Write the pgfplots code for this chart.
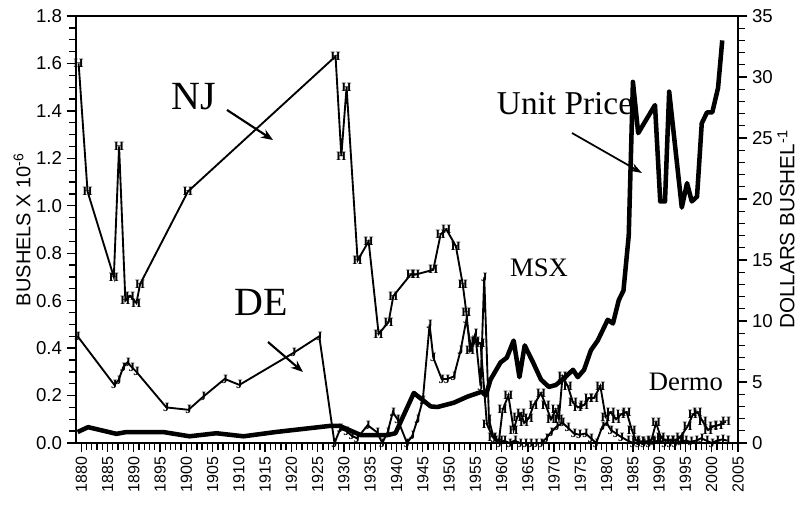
\documentclass[border=0pt]{standalone}
\usepackage{fontspec}
\setmainfont{Liberation Serif}
\setsansfont{Liberation Sans}
\usepackage{pgfplots}
\pgfplotsset{compat=1.18}
\usetikzlibrary{arrows.meta}

\pgfplotstableread{
year val
1879.5 1.60
1881.2 1.06
1886.2 0.70
1887.2 1.25
1888.4 0.60
1889.3 0.62
1890.5 0.59
1891.2 0.67
1900.3 1.06
1928.4 1.63
1929.5 1.21
1930.5 1.50
1932.6 0.77
1934.7 0.85
1936.6 0.46
1938.5 0.51
1939.4 0.62
1942.7 0.71
1943.6 0.71
1947.0 0.73
1948.4 0.88
1949.5 0.90
1951.3 0.83
1952.6 0.67
1953.3 0.55
1954.0 0.39
1955.0 0.43
1956.0 0.42
1957.2 0.08
1958.3 0.025
1959.5 0.01
1960.2 0.14
1961.3 0.20
1962.3 0.055
1963.0 0.11
1963.7 0.125
1964.3 0.085
1965.2 0.105
1966.1 0.16
1967.5 0.21
1968.4 0.16
1969.4 0.10
1970.3 0.14
1970.9 0.10
1971.6 0.28
1972.6 0.24
1973.6 0.17
1974.5 0.15
1975.7 0.16
1976.6 0.19
1977.6 0.19
1978.8 0.24
1979.8 0.11
1980.8 0.13
1981.8 0.10
1982.7 0.12
1983.8 0.13
1984.8 0.055
1985.6 0.01
1986.5 0.005
1987.5 0.005
1988.5 0.01
1989.4 0.085
1990.3 0.025
1991.2 0.01
1992.2 0.01
1993.1 0.01
1994.0 0.025
1995.4 0.07
1996.4 0.12
1997.3 0.13
1998.3 0.09
1999.3 0.055
2000.3 0.07
2001.3 0.075
2002.7 0.09
}\njdata

\pgfplotstableread{
year val
1879.3 0.45
1886.3 0.245
1887.1 0.265
1888.0 0.32
1888.8 0.34
1889.6 0.32
1890.5 0.30
1896.2 0.15
1900.4 0.14
1903.2 0.195
1907.3 0.27
1910.1 0.245
1920.4 0.38
1925.3 0.45
1928.2 0.0
1929.3 0.06
1930.5 0.05
1931.5 0.03
1932.5 0.02
1934.5 0.075
1936.3 0.045
1937.3 0.0
1938.3 0.045
1939.3 0.13
1940.2 0.10
1942.0 0.0
1943.0 0.03
1944.0 0.10
1945.0 0.18
1946.3 0.50
1947.0 0.36
1948.6 0.27
1949.6 0.27
1950.9 0.28
1952.2 0.39
1953.3 0.52
1954.2 0.40
1955.0 0.46
1956.0 0.24
1956.7 0.70
1957.6 0.10
1958.5 0.02
1959.5 0.0
1960.5 0.01
1961.5 0.0
1962.5 0.01
1963.5 0.0
1964.5 0.0
1965.5 0.0
1966.5 0.0
1967.5 0.0
1968.5 0.02
1969.4 0.045
1970.5 0.07
1971.6 0.085
1972.6 0.065
1973.8 0.04
1974.8 0.035
1976.0 0.04
1977.0 0.02
1978.0 0.0
1979.2 0.07
1980.0 0.085
1980.8 0.055
1981.8 0.04
1982.8 0.025
1984.0 0.01
1985.0 0.0
1986.0 0.0
1987.0 0.0
1988.0 0.0
1989.0 0.005
1990.0 0.01
1991.0 0.0
1992.0 0.0
1993.0 0.0
1994.0 0.005
1995.0 0.01
1996.0 0.005
1997.0 0.01
1998.0 0.02
1999.0 0.01
2000.0 0.0
2001.0 0.01
2002.0 0.015
2003.0 0.01
}\dedata

\pgfplotstableread{
year price
1879.3 0.9
1881.3 1.3
1886.7 0.75
1888.6 0.9
1895.6 0.9
1900.6 0.55
1905.7 0.8
1910.9 0.55
1917.0 0.9
1927.3 1.4
1929.2 1.4
1933.2 0.65
1938.3 0.65
1939.8 0.8
1943.3 4.1
1946.5 3.0
1947.8 2.95
1950.9 3.3
1953.5 3.8
1956.2 4.2
1957.0 3.9
1957.9 5.2
1959.8 6.6
1961.0 7.0
1962.3 8.4
1963.4 5.4
1964.4 8.0
1966.0 6.6
1967.5 5.2
1969.0 4.6
1970.3 4.75
1971.6 5.2
1972.6 5.6
1973.6 6.0
1974.5 5.4
1975.7 6.0
1977.0 7.6
1978.3 8.4
1980.2 10.1
1981.2 9.8
1982.3 11.7
1983.2 12.5
1984.2 17.0
1985.0 29.6
1986.0 25.4
1989.2 27.7
1990.2 19.8
1991.1 19.8
1991.9 28.8
1994.3 19.3
1995.3 21.3
1996.2 19.8
1997.2 20.2
1998.1 26.2
1999.1 27.1
2000.1 27.1
2001.2 29.1
2002.0 33.0
}\pricedata

\begin{document}
\begin{tikzpicture}
\pgfplotsset{
  commonaxis/.style={
    width=496.5pt, height=320.25pt, scale only axis,
    xmin=1879, xmax=2005,
    tick align=outside,
    major tick length=7pt, minor tick length=5pt,
    axis line style={line width=1.5pt},
    every tick/.style={black, line width=1pt},
    /pgf/number format/assume math mode=true,
  }
}
\begin{axis}[
  commonaxis,
  ymin=0, ymax=1.8,
  xtick={1880,1885,1890,1895,1900,1905,1910,1915,1920,1925,1930,1935,1940,1945,1950,1955,1960,1965,1970,1975,1980,1985,1990,1995,2000,2005},
  minor x tick num=4,
  ytick={0,0.2,0.4,0.6,0.8,1.0,1.2,1.4,1.6,1.8},
  minor y tick num=3,
  xtick pos=lower, ytick pos=left,
  xticklabel style={rotate=90, anchor=east, font=\sffamily\fontsize{12}{12}\selectfont, /pgf/number format/1000 sep={}},
  yticklabel style={font=\sffamily\fontsize{14}{14}\selectfont, /pgf/number format/fixed, /pgf/number format/fixed zerofill, /pgf/number format/precision=1},
  ylabel={BUSHELS X 10\textsuperscript{-6}},
  every axis y label/.style={at={(axis description cs:-0.0816,0.5)}, rotate=90, anchor=center, inner sep=0pt, font=\sffamily\fontsize{15}{15}\selectfont},
]
\addplot[black, line width=1.4pt, mark=text, text mark={\rmfamily\bfseries\fontsize{9.5}{9.5}\selectfont H}, mark options={line width=0.4pt}] table[x=year, y=val] {\njdata};
\addplot[black, line width=1.4pt, mark=text, text mark={\rmfamily\bfseries\fontsize{9.5}{9.5}\selectfont J}, mark options={line width=0.4pt}] table[x=year, y=val] {\dedata};

\node[font=\rmfamily\fontsize{30}{30}\selectfont] at (axis cs:1901.46,1.4586) {NJ};
\draw[line width=1.6pt, -{Stealth[length=9pt,width=7pt]}] (axis cs:1907.74,1.404) -- (axis cs:1916.5,1.277);
\node[font=\rmfamily\fontsize{30}{30}\selectfont] at (axis cs:1914.2,0.594) {DE};
\draw[line width=1.6pt, -{Stealth[length=9pt,width=7pt]}] (axis cs:1915.54,0.4258) -- (axis cs:1922.2,0.2993);
\node[font=\rmfamily\fontsize{25}{25}\selectfont] at (axis cs:1972.07,1.429) {Unit Price};
\draw[line width=1.3pt, -{Stealth[length=9pt,width=6pt]}] (axis cs:1973.4,1.3068) -- (axis cs:1986.73,1.138);
\node[font=\rmfamily\fontsize{20}{20}\selectfont] at (axis cs:1967.12,0.7377) {MSX};
\node[font=\rmfamily\fontsize{20}{20}\selectfont] at (axis cs:1995.1,0.257) {Dermo};
\end{axis}

\begin{axis}[
  commonaxis,
  ymin=0, ymax=35,
  axis x line=none, axis y line*=right,
  ytick={0,5,10,15,20,25,30,35},
  minor y tick num=4,
  yticklabel style={font=\sffamily\fontsize{14}{14}\selectfont},
  ylabel={DOLLARS BUSHEL\textsuperscript{-1}},
  every axis y label/.style={at={(axis description cs:1.0725,0.5)}, rotate=90, anchor=center, inner sep=0pt, font=\sffamily\fontsize{15.5}{15.5}\selectfont},
]
\addplot[black, line width=3.4pt, line join=round] table[x=year, y=price] {\pricedata};
\end{axis}
\pgfresetboundingbox
\useasboundingbox (-57pt,-48.75pt) rectangle (541.5pt,332.25pt);
\end{tikzpicture}
\end{document}
